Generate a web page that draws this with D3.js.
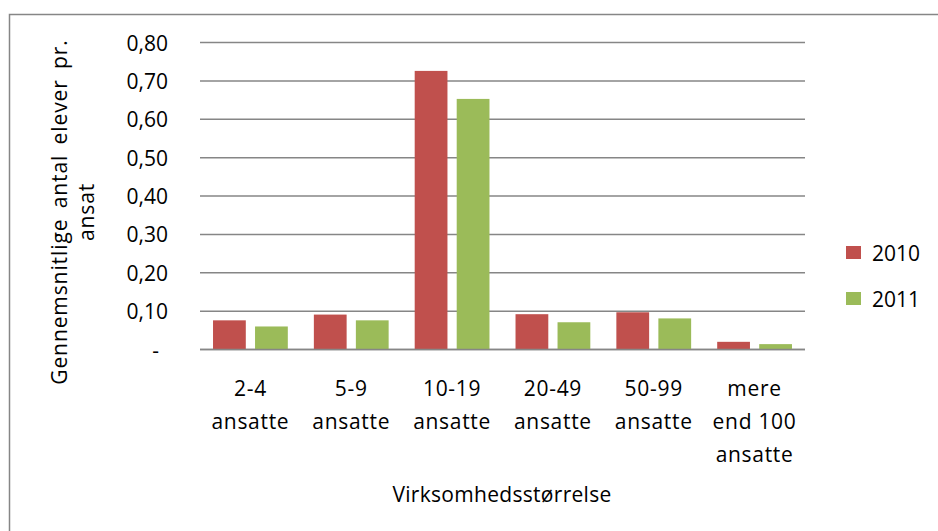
<!DOCTYPE html>
<meta charset="utf-8" />
<style>
  body { margin: 0; background: #fff; }
  svg { font-family: "Open Sans", Lato, sans-serif; }
</style>
<body>
<script src="https://d3js.org/d3.v7.min.js"></script>
<script>

// chart data
var categories = [["2-4", "ansatte"], ["5-9", "ansatte"], ["10-19", "ansatte"],
                  ["20-49", "ansatte"], ["50-99", "ansatte"], ["mere", "end 100", "ansatte"]];
var series = ["2010", "2011"];
var values2010 = [0.076, 0.091, 0.726, 0.092, 0.097, 0.020];
var values2011 = [0.060, 0.076, 0.653, 0.071, 0.081, 0.014];
var yTicks = [0, 0.1, 0.2, 0.3, 0.4, 0.5, 0.6, 0.7, 0.8];
var colors = ["#C0504D", "#9BBB59"];

var W = 938, H = 531;
var plot = {left: 200, right: 805, top: 42.5, bottom: 349.5};
var fs = "21px";

var svg = d3.select("body").append("svg")
    .attr("width", W)
    .attr("height", H);

// outer frame
svg.append("rect")
    .attr("x", 9.5).attr("y", 14.5)
    .attr("width", W).attr("height", H)
    .attr("fill", "none")
    .attr("stroke", "#868686")
    .attr("stroke-width", 1.5);

var x = d3.scaleBand()
    .domain(d3.range(categories.length))
    .range([plot.left, plot.right]);

var x1 = d3.scaleBand()
    .domain(series)
    .range([0, x.bandwidth()])
    .paddingInner(0.22)
    .paddingOuter(0.31);

var y = d3.scaleLinear().domain([0, 0.8]).range([plot.bottom, plot.top]);

// gridlines
svg.append("g")
  .selectAll("line")
  .data(yTicks)
  .join("line")
    .attr("x1", plot.left).attr("x2", plot.right)
    .attr("y1", d => y(d)).attr("y2", d => y(d))
    .attr("stroke", "#868686")
    .attr("stroke-width", 1.5);

// y tick labels
svg.append("g")
  .selectAll("text")
  .data(yTicks)
  .join("text")
    .attr("x", d => d === 0 ? 159 : 168)
    .attr("y", d => y(d) + 8)
    .attr("text-anchor", "end")
    .style("font-size", fs)
    .text(d => d === 0 ? "-" : d3.format(".2f")(d).replace(".", ","));

// bars
var data = [values2010, values2011];
var groups = svg.append("g")
  .selectAll("g")
  .data(categories)
  .join("g")
    .attr("transform", (d, i) => "translate(" + x(i) + ",0)");

groups.selectAll("rect")
  .data((d, i) => series.map((s, j) => ({s: s, v: data[j][i], c: colors[j]})))
  .join("rect")
    .attr("x", d => x1(d.s))
    .attr("width", x1.bandwidth())
    .attr("y", d => y(d.v))
    .attr("height", d => plot.bottom - y(d.v))
    .attr("fill", d => d.c);

// redraw the baseline over the bars
svg.append("line")
    .attr("x1", plot.left).attr("x2", plot.right)
    .attr("y1", y(0)).attr("y2", y(0))
    .attr("stroke", "#868686")
    .attr("stroke-width", 1.5);

// category labels
groups.append("text")
    .attr("x", x.bandwidth() / 2)
    .attr("text-anchor", "middle")
    .style("font-size", fs)
    .style("letter-spacing", "0.7px")
    .selectAll("tspan")
    .data(d => d)
    .join("tspan")
      .attr("x", x.bandwidth() / 2)
      .attr("y", (d, i) => 396 + i * 33)
      .text(d => d);

// x axis title
svg.append("text")
    .attr("x", 502)
    .attr("y", 502)
    .attr("text-anchor", "middle")
    .style("font-size", fs)
    .style("letter-spacing", "0.3px")
    .text("Virksomhedsstørrelse");

// y axis title
var yt = svg.append("text")
    .attr("transform", "translate(67,212)rotate(-90)")
    .attr("text-anchor", "middle")
    .style("font-size", fs)
    .style("letter-spacing", "0.9px");
yt.append("tspan").attr("x", 0).attr("y", 0).attr("word-spacing", "4px").text("Gennemsnitlige antal elever pr.");
yt.append("tspan").attr("x", 0).attr("y", 27).text("ansat");

// legend
var legend = svg.append("g")
  .selectAll("g")
  .data(series)
  .join("g")
    .attr("transform", (d, i) => "translate(846," + (246 + i * 46) + ")");

legend.append("rect")
    .attr("width", 15).attr("height", 13)
    .attr("fill", (d, i) => colors[i]);

legend.append("text")
    .attr("x", 26)
    .attr("y", 15)
    .style("font-size", fs)
    .text(d => d);

</script>
</body>
